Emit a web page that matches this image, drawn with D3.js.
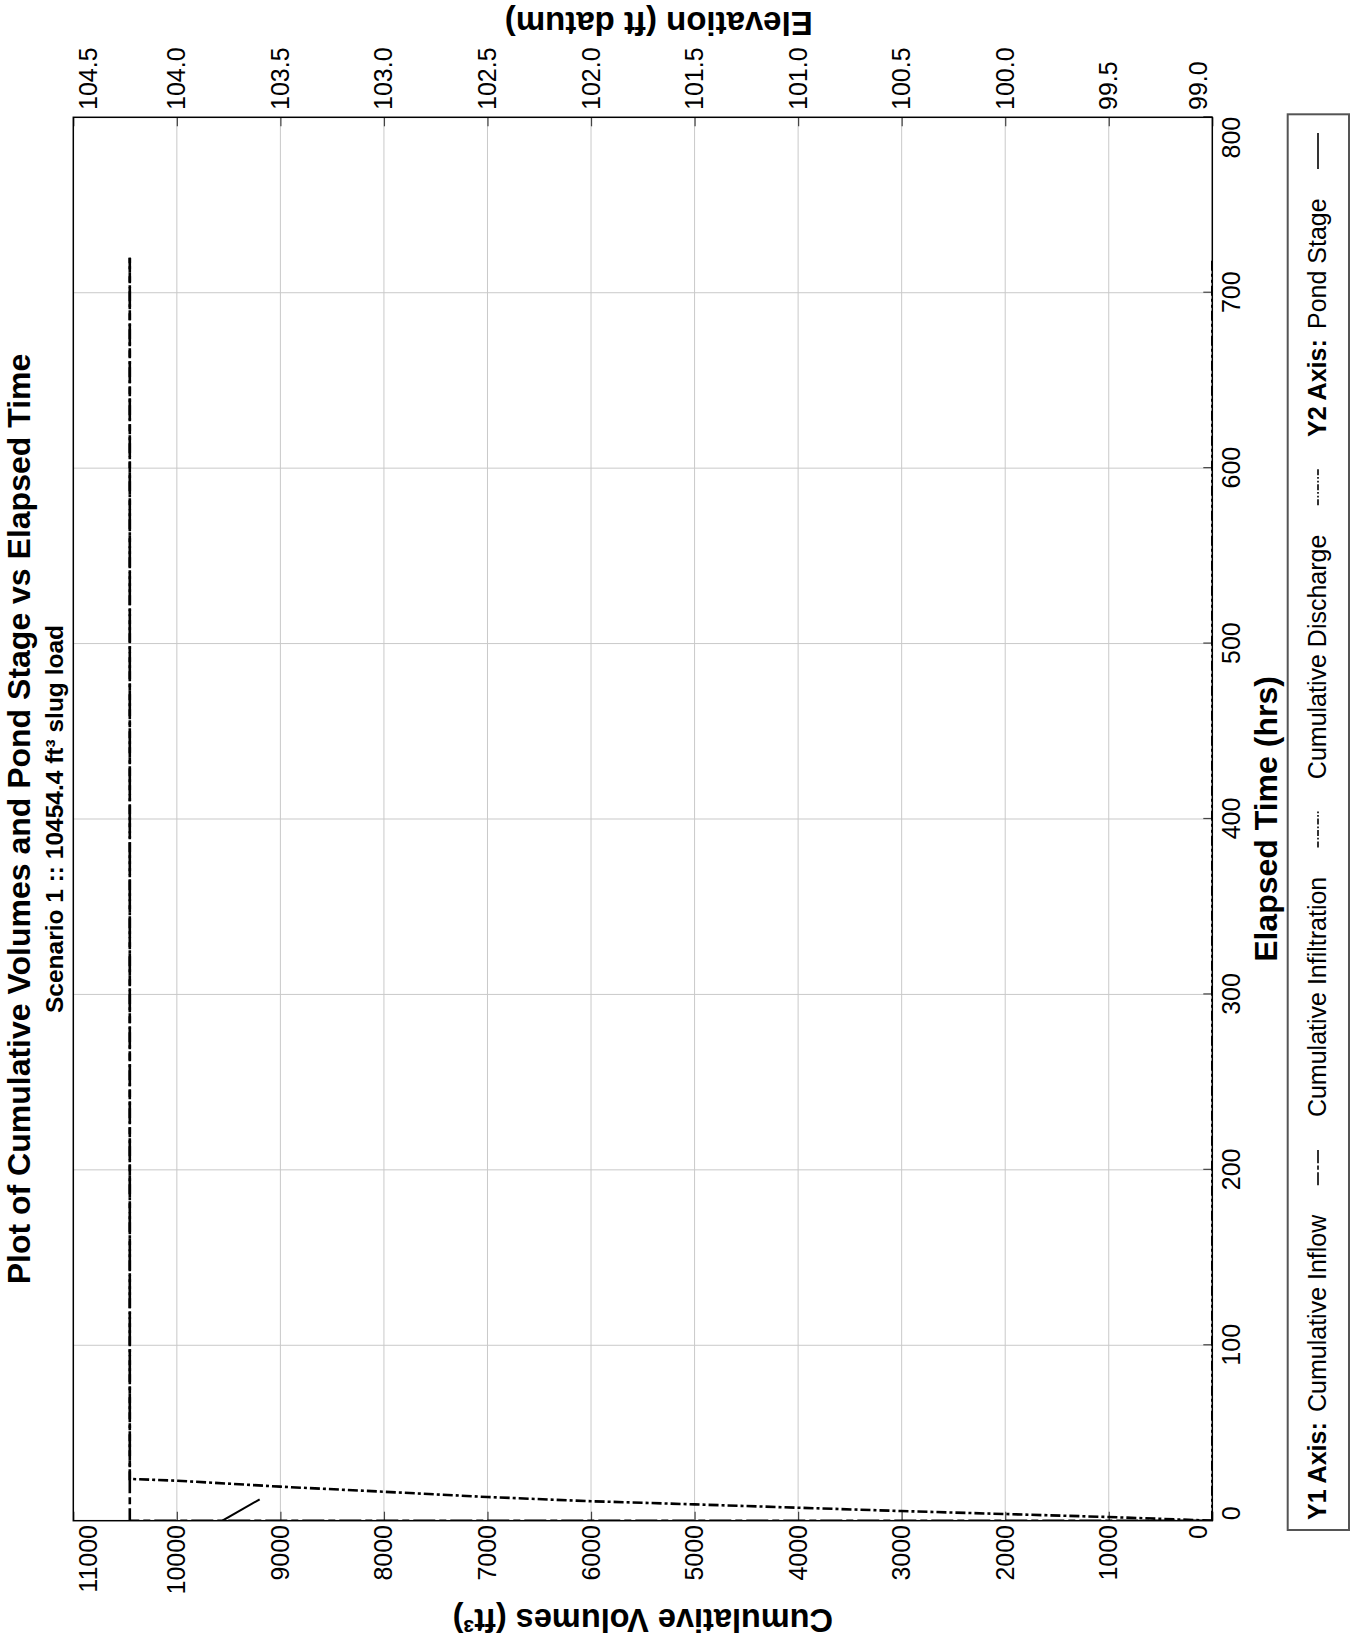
<!DOCTYPE html>
<html>
<head>
<meta charset="utf-8">
<script src="https://cdn.jsdelivr.net/npm/d3@7"></script>
<style>
  body { margin: 0; background: #fff; }
  svg { display: block; }
  text { font-family: "Liberation Sans", Arial, Helvetica, sans-serif; fill: #000; }
</style>
</head>
<body>
<svg id="chart" width="1354" height="1640"></svg>
<script>
// Cumulative volumes (ft³) against elapsed time (hrs)
const inflowTime = [0, 0, 720];
const inflowVolume = [0, 10454.4, 10454.4];

const infiltrationTime = [0, 2.1, 3.8, 5.5, 7.4, 9.3, 11.1, 13.5, 16.5, 19.4, 22.8, 23.8, 720];
const infiltrationVolume = [0, 1000, 2000, 3000, 4000, 5000, 6000, 7000, 8000, 9000, 10000, 10454.4, 10454.4];

const dischargeTime = [0, 720];
const dischargeVolume = [0, 0];

// Pond stage (ft datum)
const stageTime = [0, 12.2];
const stageElevation = [103.78, 103.60];

// Axis ticks
const timeTicks = [0, 100, 200, 300, 400, 500, 600, 700, 800];
const volumeTicks = [0, 1000, 2000, 3000, 4000, 5000, 6000, 7000, 8000, 9000, 10000, 11000];
const elevationTicks = [99.0, 99.5, 100.0, 100.5, 101.0, 101.5, 102.0, 102.5, 103.0, 103.5, 104.0, 104.5];

const titleText = "Plot of Cumulative Volumes and Pond Stage vs Elapsed Time";
const subtitleText = "Scenario 1 :: 10454.4 ft³ slug load";
const xTitle = "Elapsed Time (hrs)";
const y1Title = "Cumulative Volumes (ft³)";
const y2Title = "Elevation (ft datum)";

// The page is portrait; the chart is laid out landscape and turned a quarter turn.
const W = 1640, H = 1354;
const plot = { left: 119.3, right: 1522.7, top: 73.3, bottom: 1212.3 };

const svg = d3.select("#chart");
svg.append("rect").attr("width", 1354).attr("height", 1640).attr("fill", "#fff");
const g = svg.append("g").attr("transform", `translate(0,${W}) rotate(-90)`);

const x = d3.scaleLinear().domain([0, 800]).range([plot.left, plot.right]);
const y1 = d3.scaleLinear().domain([0, 11000]).range([plot.bottom, plot.top]);
const y2 = d3.scaleLinear().domain([99, 104.5]).range([plot.bottom, plot.top]);

// grid
const grid = g.append("g").attr("stroke", "#c9c9c9").attr("stroke-width", 1);
grid.selectAll(".gx").data(timeTicks.slice(1, -1)).join("line")
  .attr("x1", d => x(d)).attr("x2", d => x(d))
  .attr("y1", plot.top).attr("y2", plot.bottom);
grid.selectAll(".gy").data(volumeTicks.slice(1, -1)).join("line")
  .attr("x1", plot.left).attr("x2", plot.right)
  .attr("y1", d => y1(d)).attr("y2", d => y1(d));

const tickFont = 25;

// left axis: cumulative volume
const axL = g.append("g").attr("transform", `translate(${plot.left},0)`)
  .call(d3.axisLeft(y1).tickValues(volumeTicks).tickSize(-9).tickSizeOuter(0).tickPadding(4.3).tickFormat(d3.format("d")));
// right axis: elevation
const axR = g.append("g").attr("transform", `translate(${plot.right},0)`)
  .call(d3.axisRight(y2).tickValues(elevationTicks).tickSize(-9).tickSizeOuter(0).tickPadding(7.3).tickFormat(d3.format(".1f")));
// bottom axis: time
const axB = g.append("g").attr("transform", `translate(0,${plot.bottom})`)
  .call(d3.axisBottom(x).tickValues(timeTicks).tickSize(-9).tickSizeOuter(0).tickPadding(10).tickFormat(d3.format("d")));

[axL, axR, axB].forEach(ax => {
  ax.select(".domain").remove();
  ax.attr("font-size", tickFont).attr("font-family", null);
  ax.selectAll(".tick line").attr("stroke", "#444").attr("stroke-width", 1.2);
  ax.selectAll(".tick text").attr("fill", "#000");
});
// keep the end labels inside the frame
[axL, axR].forEach(ax => {
  ax.selectAll(".tick text").filter(d => d === volumeTicks[volumeTicks.length - 1] || d === elevationTicks[elevationTicks.length - 1])
    .attr("dy", "0.92em");
  ax.selectAll(".tick text").filter(d => d === 0 || d === 99.0)
    .attr("dy", "-0.24em");
});
axB.selectAll(".tick text").filter(d => d === 0).attr("text-anchor", "start");
axB.selectAll(".tick text").filter(d => d === 800).attr("text-anchor", "end");

// clip
g.append("clipPath").attr("id", "plotClip").append("rect")
  .attr("x", plot.left).attr("y", plot.top)
  .attr("width", plot.right - plot.left).attr("height", plot.bottom - plot.top);

const series = [
  { t: inflowTime, v: inflowVolume, scale: y1, dash: "22,4,7,4", width: 2.6 },
  { t: infiltrationTime, v: infiltrationVolume, scale: y1, dash: "10,3,3,3", width: 2.6 },
  { t: dischargeTime, v: dischargeVolume, scale: y1, dash: "10,3,3,3,3,3", width: 2.6 },
  { t: stageTime, v: stageElevation, scale: y2, dash: null, width: 2 }
];

const lines = g.append("g").attr("clip-path", "url(#plotClip)");
series.forEach(s => {
  const pts = s.t.map((t, i) => [t, s.v[i]]);
  const line = d3.line().x(d => x(d[0])).y(d => s.scale(d[1]));
  lines.append("path").datum(pts)
    .attr("d", line)
    .attr("fill", "none")
    .attr("stroke", "#000")
    .attr("stroke-width", s.width)
    .attr("stroke-dasharray", s.dash);
});

// frame
g.append("rect").attr("x", plot.left).attr("y", plot.top)
  .attr("width", plot.right - plot.left).attr("height", plot.bottom - plot.top)
  .attr("fill", "none").attr("stroke", "#000").attr("stroke-width", 1.5);

const midX = (plot.left + plot.right) / 2;
const midY = (plot.top + plot.bottom) / 2;

// titles
g.append("text").attr("x", midX).attr("y", 30).attr("text-anchor", "middle")
  .attr("font-size", 32).attr("font-weight", "bold").text(titleText);
g.append("text").attr("x", midX).attr("y", 63).attr("text-anchor", "middle")
  .attr("font-size", 24.5).attr("font-weight", "bold").text(subtitleText);
g.append("text").attr("x", midX).attr("y", 1277).attr("text-anchor", "middle")
  .attr("font-size", 32).attr("font-weight", "bold").text(xTitle);
g.append("text").attr("transform", `translate(31,${midY}) rotate(-90)`).attr("text-anchor", "middle")
  .attr("font-size", 32.5).attr("font-weight", "bold").text(y1Title);
g.append("text").attr("transform", `translate(1628,${midY + 16}) rotate(-90)`).attr("text-anchor", "middle")
  .attr("font-size", 33).attr("font-weight", "bold").text(y2Title);

// legend
const legendBox = { x0: 110, x1: 1525.7, y0: 1287.7, y1: 1349 };
g.append("rect").attr("x", legendBox.x0).attr("y", legendBox.y0)
  .attr("width", legendBox.x1 - legendBox.x0).attr("height", legendBox.y1 - legendBox.y0)
  .attr("fill", "#fff").attr("stroke", "#555").attr("stroke-width", 2);

// gap weights between consecutive legend pieces
const legendItems = [
  { text: "Y1 Axis:", bold: true, gap: 0.7 },
  { text: "Cumulative Inflow", gap: 2 },
  { series: 0, gap: 2.2 },
  { text: "Cumulative Infiltration", gap: 2 },
  { series: 1, gap: 2.2 },
  { text: "Cumulative Discharge", gap: 2 },
  { series: 2, gap: 2.2 },
  { text: "Y2 Axis:", bold: true, gap: 0.7 },
  { text: "Pond Stage", gap: 2 },
  { series: 3, gap: 0 }
];
const legendFont = 25;
const legendBase = 1326;
const sampleLen = 36;
const legendStart = 120, legendEnd = 1507;
const lg = g.append("g");
const nodes = legendItems.map(it => {
  if (it.text) {
    const t = lg.append("text").attr("y", legendBase)
      .attr("font-size", legendFont).attr("font-weight", it.bold ? "bold" : "normal").text(it.text);
    return { it, el: t, w: t.node().getComputedTextLength() };
  }
  return { it, w: sampleLen };
});
const used = d3.sum(nodes, n => n.w);
const unit = (legendEnd - legendStart - used) / d3.sum(legendItems, it => it.gap);
let cx = legendStart;
nodes.forEach(n => {
  if (n.el) {
    n.el.attr("x", cx);
  } else {
    const s = series[n.it.series];
    lg.append("line").attr("x1", cx).attr("x2", cx + sampleLen)
      .attr("y1", legendBase - 8).attr("y2", legendBase - 8)
      .attr("stroke", "#000").attr("stroke-width", 1.6)
      .attr("stroke-dasharray", s.dash ? s.dash.split(",").map(v => v * 0.6).join(",") : null);
  }
  cx += n.w + n.it.gap * unit;
});
</script>
</body>
</html>
